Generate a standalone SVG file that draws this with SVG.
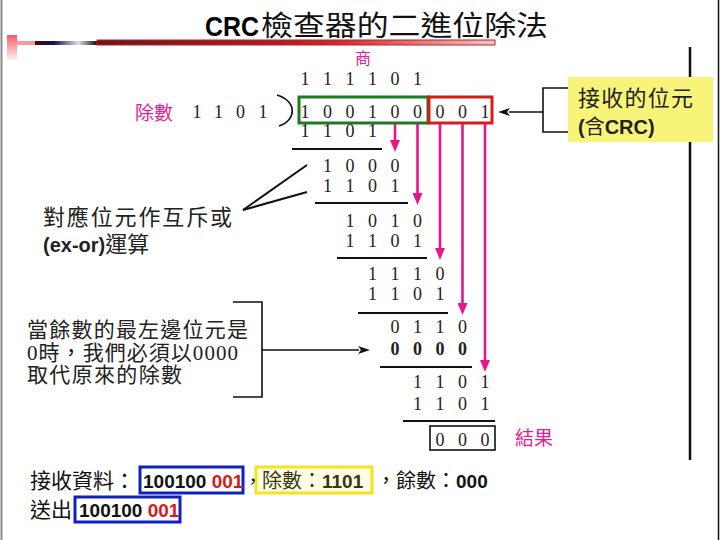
<svg xmlns="http://www.w3.org/2000/svg" width="720" height="540" viewBox="0 0 720 540">
<style>
.cjk{font-family:"Noto Sans CJK TC","Noto Sans CJK SC",sans-serif;}
.sans{font-family:"Liberation Sans",Arial,"Noto Sans CJK TC",sans-serif;}
.d{font-family:"Liberation Serif","Times New Roman",serif;font-size:18px;fill:#222;text-anchor:middle;}
.mag{fill:#e0209a;}
.rule{stroke:#111;stroke-width:2;}
.pink{stroke:#e6168c;stroke-width:2.6;fill:none;}
.thin{stroke:#111;stroke-width:1.6;fill:none;}
</style>
<defs>
<marker id="mh" viewBox="0 0 12 10" markerWidth="12" markerHeight="10" refX="1" refY="5" orient="auto" markerUnits="userSpaceOnUse"><path d="M0,0 L12,5 L0,10 z" fill="#e6168c"/></marker>
<marker id="bh" viewBox="0 0 12 8" markerWidth="12" markerHeight="8" refX="1" refY="4" orient="auto" markerUnits="userSpaceOnUse"><path d="M0,0 L12,4 L0,8 L3,4 z" fill="#111"/></marker>
<linearGradient id="gSq" x1="0" y1="0" x2="0" y2="1"><stop offset="0" stop-color="#f45a6a"/><stop offset="1" stop-color="#fff0f0"/></linearGradient>
<linearGradient id="gDark" x1="0" y1="0" x2="1" y2="0"><stop offset="0" stop-color="#3a0a10"/><stop offset="0.3" stop-color="#1a1050"/><stop offset="0.7" stop-color="#dde"/><stop offset="1" stop-color="#111"/></linearGradient>
<linearGradient id="gRed" x1="0" y1="0" x2="1" y2="0"><stop offset="0" stop-color="#6a1518"/><stop offset="0.45" stop-color="#a82028"/><stop offset="0.6" stop-color="#d0262c"/><stop offset="1" stop-color="#f4c4c4"/></linearGradient>
</defs>

<!-- frame -->
<g id="frame">
<line x1="1.5" y1="0" x2="1.5" y2="540" stroke="#888" stroke-width="2"/>
<line x1="718.5" y1="0" x2="718.5" y2="540" stroke="#111" stroke-width="1.5"/>
<line x1="690" y1="47" x2="690" y2="460" stroke="#111" stroke-width="2.5"/>
</g>

<!-- title decoration -->
<g id="decor">
<rect x="7" y="35" width="10" height="25" fill="url(#gSq)"/>
<rect x="17" y="41" width="18" height="4" fill="#f79aa4"/>
<rect x="35" y="41" width="62" height="4" fill="url(#gDark)"/>
<rect x="97" y="40" width="398" height="5" fill="url(#gRed)" stroke="#b82228" stroke-width="1"/>
</g>

<g id="title">
<text x="205" y="36" class="sans" font-size="28" font-weight="bold" textLength="54" lengthAdjust="spacingAndGlyphs">CRC</text>
<text x="261" y="36" class="cjk" font-size="28" fill="#111" textLength="287" lengthAdjust="spacingAndGlyphs">檢查器的二進位除法</text>
</g>

<!-- division -->
<g id="quotient">
<text x="363" y="64" class="cjk mag" font-size="16" text-anchor="middle">商</text>
<text class="d" x="305 327.5 350 372.5 395 417.5" y="85">111101</text>
</g>

<g id="divisor">
<text x="135" y="120" class="cjk mag" font-size="19">除數</text>
<text class="d" x="197 218.5 240.5 263" y="118">1101</text>
<path d="M277 95 C297 101 297 120 279 126" class="thin" stroke-width="1.6"/>
</g>

<g id="dividend">
<text class="d" x="305 327.5 350 372.5 395 417.5 440 462.5 485" y="118">100100001</text>
<rect x="299" y="97" width="129" height="26" fill="none" stroke="#1d7a22" stroke-width="3"/>
<rect x="429" y="97" width="63" height="26" fill="none" stroke="#d81a1a" stroke-width="3"/>
</g>

<g id="steps">
<text class="d" x="305 327.5 350 372.5" y="137">1101</text>
<line x1="292" y1="149" x2="382" y2="149" class="rule"/>
<text class="d" x="327.5 350 372.5 395" y="172">1000</text>
<text class="d" x="327.5 350 372.5 395" y="192">1101</text>
<line x1="315" y1="203" x2="408" y2="203" class="rule"/>
<text class="d" x="350 372.5 395 417.5" y="227">1010</text>
<text class="d" x="350 372.5 395 417.5" y="247">1101</text>
<line x1="337" y1="258" x2="427" y2="258" class="rule"/>
<text class="d" x="372.5 395 417.5 440" y="280">1110</text>
<text class="d" x="372.5 395 417.5 440" y="300">1101</text>
<line x1="358" y1="313" x2="448" y2="313" class="rule"/>
<text class="d" x="395 417.5 440 462.5" y="333">0110</text>
<text class="d" x="395 417.5 440 462.5" y="355" font-weight="bold">0000</text>
<line x1="380" y1="367" x2="472" y2="367" class="rule"/>
<text class="d" x="417.5 440 462.5 485" y="388">1101</text>
<text class="d" x="417.5 440 462.5 485" y="410">1101</text>
<line x1="403" y1="421" x2="495" y2="421" class="rule"/>
</g>

<g id="result">
<rect x="430" y="426" width="65" height="24" fill="none" stroke="#111" stroke-width="1.6"/>
<text class="d" x="440 462.5 485" y="446">000</text>
<text x="515" y="445" class="cjk mag" font-size="19">結果</text>
</g>

<g id="connectors">
<line x1="395" y1="124" x2="395" y2="141" class="pink" marker-end="url(#mh)"/>
<line x1="417.5" y1="124" x2="417.5" y2="194" class="pink" marker-end="url(#mh)"/>
<line x1="440" y1="124" x2="440" y2="249" class="pink" marker-end="url(#mh)"/>
<line x1="462.5" y1="124" x2="462.5" y2="304" class="pink" marker-end="url(#mh)"/>
<line x1="485" y1="124" x2="485" y2="361" class="pink" marker-end="url(#mh)"/>
<path d="M570 88 H543 V132 H570" class="thin"/>
<line x1="543" y1="112" x2="509" y2="112" class="thin" marker-end="url(#bh)"/>
<line x1="243" y1="210" x2="307" y2="165" stroke="#111" stroke-width="2"/>
<line x1="243" y1="210" x2="307" y2="192" stroke="#111" stroke-width="2"/>
<path d="M233 302 H262 V397 H233" class="thin"/>
<line x1="262" y1="350" x2="359" y2="350" class="thin" marker-end="url(#bh)"/>
</g>

<g id="note-received">
<rect x="568" y="77" width="145" height="65" fill="#f8f47a"/>
<text x="578" y="106" class="cjk" font-size="22" fill="#222" textLength="115">接收的位元</text>
<text x="578" y="134" class="sans" font-size="20" font-weight="bold" fill="#222">(<tspan class="cjk" font-weight="normal">含</tspan>CRC)</text>
</g>

<g id="note-xor">
<text x="43" y="225" class="cjk" font-size="22" fill="#222" textLength="189">對應位元作互斥或</text>
<text x="43" y="252" class="sans" font-size="20" font-weight="bold" fill="#222">(ex-or)<tspan class="cjk" font-weight="normal" font-size="22">運算</tspan></text>
</g>

<g id="note-zero">
<text x="27" y="337" class="cjk" font-size="21" fill="#222" textLength="221">當餘數的最左邊位元是</text>
<text x="27" y="360" class="cjk" font-size="21" fill="#222" textLength="211"><tspan font-family="Liberation Serif,serif">0</tspan>時，我們必須以<tspan font-family="Liberation Serif,serif">0000</tspan></text>
<text x="27" y="382" class="cjk" font-size="21" fill="#222" textLength="155">取代原來的除數</text>
</g>

<g id="summary">
<rect x="140" y="467" width="103" height="26" fill="none" stroke="#1020c0" stroke-width="3"/>
<rect x="256" y="467" width="116" height="26" fill="#ffffe4" stroke="#f2e41e" stroke-width="3"/>
<rect x="75" y="497" width="105" height="25" fill="none" stroke="#1020c0" stroke-width="3"/>
<text x="30" y="488" class="cjk" font-size="21" fill="#111">接收資料：</text>
<text x="143" y="488" class="sans" font-size="19" font-weight="bold" fill="#111">100100 <tspan fill="#d81a1a">001</tspan></text>
<text x="244" y="488" class="cjk" font-size="18" fill="#111">，</text>
<text x="262" y="488" class="cjk" font-size="20" fill="#3a3610">除數：<tspan class="sans" font-weight="bold" font-size="19">1101</tspan></text>
<text x="376" y="488" class="cjk" font-size="20" fill="#111">，餘數：<tspan class="sans" font-weight="bold" font-size="19">000</tspan></text>
<text x="30" y="517" class="cjk" font-size="21" fill="#111">送出</text>
<text x="79" y="517" class="sans" font-size="19" font-weight="bold" fill="#111">100100 <tspan fill="#d81a1a">001</tspan></text>
</g>
</svg>
